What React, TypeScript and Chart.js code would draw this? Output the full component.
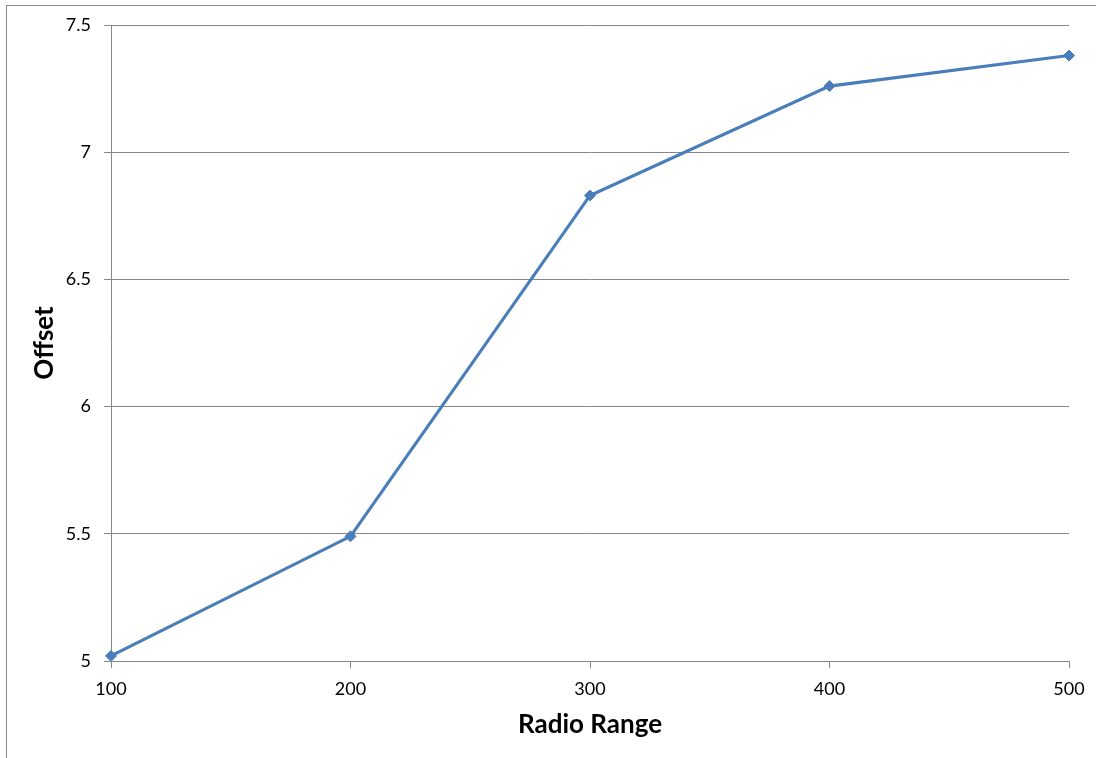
import React, { useEffect, useRef } from "react";
import { Chart, registerables } from "chart.js";

Chart.register(...registerables);

// Offset measured for each radio range setting
const radioRange = ["100", "200", "300", "400", "500"];
const offsetValues = [5.02, 5.49, 6.83, 7.26, 7.38];

const yMin = 5;
const yMax = 7.5;
const yStep = 0.5;

const FONT = "Lato, 'Open Sans', sans-serif";
const GRID = "#878787";
const LINE = "#4a7ebb";

export default function App() {
  const canvasRef = useRef<HTMLCanvasElement | null>(null);

  useEffect(() => {
    if (!canvasRef.current) return;
    const chart = new Chart(canvasRef.current, {
      type: "line",
      data: {
        labels: radioRange,
        datasets: [
          {
            label: "Offset",
            data: offsetValues,
            borderColor: LINE,
            backgroundColor: LINE,
            borderWidth: 3.2,
            pointStyle: "rectRot",
            pointRadius: 5.5,
            pointBorderWidth: 1,
            tension: 0,
          },
        ],
      },
      options: {
        responsive: false,
        animation: false,
        layout: { padding: { left: 0, top: 25, right: 27, bottom: 0 } },
        plugins: {
          legend: { display: false },
          tooltip: { enabled: false },
        },
        scales: {
          x: {
            type: "category",
            offset: false,
            grid: {
              drawOnChartArea: false,
              drawTicks: true,
              tickLength: 7,
              color: GRID,
              lineWidth: 1,
            },
            border: { color: GRID, width: 1 },
            ticks: {
              color: "#000",
              font: { family: FONT, size: 18 },
              padding: 10,
              maxRotation: 0,
            },
            title: {
              display: true,
              text: "Radio Range",
              color: "#000",
              font: { family: FONT, size: 26, weight: "bold" },
              padding: { top: 0, bottom: 18 },
            },
            afterFit: (scale: any) => {
              scale.height = 97;
            },
          },
          y: {
            min: yMin,
            max: yMax,
            grid: {
              drawOnChartArea: true,
              drawTicks: true,
              tickLength: 7,
              color: GRID,
              lineWidth: 1,
            },
            border: { color: GRID, width: 1 },
            ticks: {
              stepSize: yStep,
              color: "#000",
              font: { family: FONT, size: 18 },
              padding: 13,
              callback: (v: any) => String(v),
            },
            title: {
              display: true,
              text: "Offset",
              color: "#000",
              font: { family: FONT, size: 26, weight: "bold" },
              padding: { top: 29, bottom: 0 },
            },
            afterFit: (scale: any) => {
              scale.width = 111;
            },
          },
        },
      },
    });
    return () => chart.destroy();
  }, []);

  return (
    <div
      style={{
        position: "fixed",
        inset: 0,
        overflow: "hidden",
        background: "#fff",
      }}
    >
      <div
        style={{
          position: "absolute",
          left: 6,
          top: 5,
          width: 1300,
          height: 1000,
          borderLeft: "1px solid #8a8a8a",
          borderTop: "1px solid #8a8a8a",
        }}
      />
      <canvas
        ref={canvasRef}
        width={1096}
        height={758}
        style={{ position: "absolute", left: 0, top: 0, width: 1096, height: 758 }}
      />
    </div>
  );
}
